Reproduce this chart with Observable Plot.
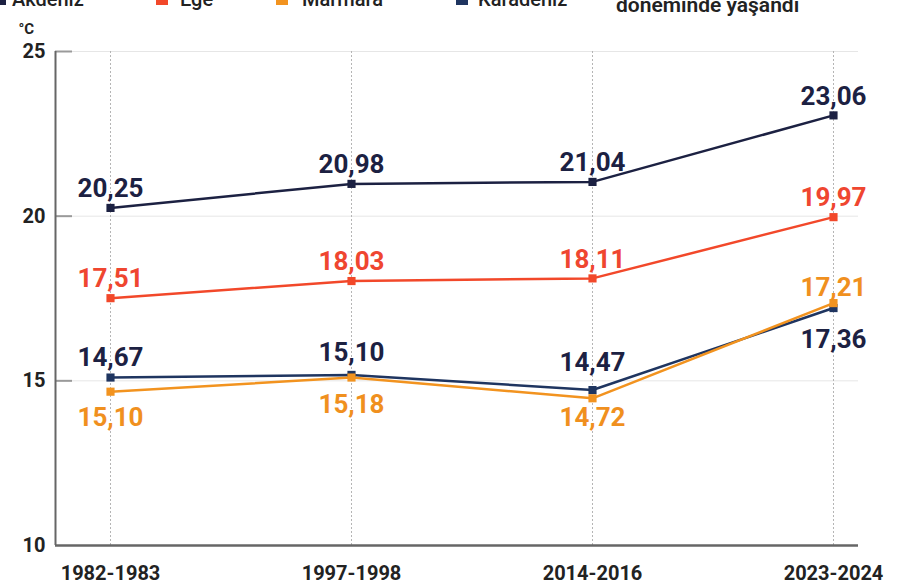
<!DOCTYPE html>
<html>
<head>
<meta charset="utf-8">
<script src="https://cdn.jsdelivr.net/npm/d3@7"></script>
<script src="https://cdn.jsdelivr.net/npm/@observablehq/plot@0.6"></script>
<style>
  html, body { margin: 0; padding: 0; background: #fff; }
  #wrap { position: relative; width: 919px; height: 587px; overflow: hidden; font-family: Roboto, "Noto Sans", sans-serif; }
  #chart { position: absolute; left: 0; top: 0; }
  .leg { position: absolute; top: -11px; font-size: 20px; font-weight: 500; color: #222; line-height: 20px; white-space: nowrap; }
  .sw { position: absolute; top: -7px; width: 12px; height: 12px; }
  .note { position: absolute; top: -5px; left: 616px; font-size: 21px; font-weight: 600; color: #222; line-height: 21px; white-space: nowrap; }
</style>
</head>
<body>
<div id="wrap">
  <div id="chart"></div>
</div>
<script>
const periods = ["1982-1983", "1997-1998", "2014-2016", "2023-2024"];
const seriesNames = ["Akdeniz", "Ege", "Marmara", "Karadeniz"];
const akdeniz = [20.25, 20.98, 21.04, 23.06];
const ege = [17.51, 18.03, 18.11, 19.97];
const marmara = [14.67, 15.10, 14.47, 17.36];
const karadeniz = [15.10, 15.18, 14.72, 17.21];
const akdenizLabels = ["20,25", "20,98", "21,04", "23,06"];
const egeLabels = ["17,51", "18,03", "18,11", "19,97"];
const marmaraLabels = ["15,10", "15,18", "14,72", "17,21"];
const karadenizLabels = ["14,67", "15,10", "14,47", "17,36"];
const yTicks = [10, 15, 20, 25];
const noteText = "döneminde yaşandı";

const colors = {Akdeniz: "#1c2142", Ege: "#f2482a", Marmara: "#f2931f", Karadeniz: "#1f3560"};
const labelColors = {Akdeniz: "#1c2142", Ege: "#ef4630", Marmara: "#f0901e", Karadeniz: "#1c2142"};
// label vertical offsets (style only)
const labelDy = {
  Akdeniz: [-19, -19, -19, -19],
  Ege: [-19, -19, -19, -19],
  Karadeniz: [-20, -22, -27, 32],
  Marmara: [26, 27, 19, -15]
};

const seriesValues = {Akdeniz: akdeniz, Ege: ege, Marmara: marmara, Karadeniz: karadeniz};
const seriesLabels = {Akdeniz: akdenizLabels, Ege: egeLabels, Marmara: marmaraLabels, Karadeniz: karadenizLabels};
const drawOrder = ["Akdeniz", "Ege", "Karadeniz", "Marmara"];

const rows = [];
for (const s of drawOrder) {
  periods.forEach((p, i) => rows.push({series: s, period: p, value: seriesValues[s][i], label: seriesLabels[s][i], i}));
}

const font = "Roboto, 'Noto Sans', sans-serif";

const marks = [
  Plot.ruleY(yTicks.filter(d => d > 10), {y: d => d, stroke: "#e6e6e6", strokeWidth: 1}),
  Plot.ruleX(periods, {x: d => d, y1: 10, y2: 25, stroke: "#b5b5b5", strokeWidth: 1, strokeDasharray: "2,2"}),
  Plot.tickY(yTicks.filter(d => d > 10), {y: d => d, stroke: "#9a9a9a", strokeWidth: 2, insetRight: 786}),
  Plot.ruleX([periods[0]], {x: d => d, dx: -55, y1: 10, y2: 25, stroke: "#666", strokeWidth: 2}),
  Plot.ruleY([10], {stroke: "#666", strokeWidth: 2.5}),
  Plot.axisY({ticks: yTicks, tickSize: 0, tickPadding: 10, tickFormat: d => d, fontSize: 20, fontWeight: 700, fill: "#222", label: null}),
  Plot.axisX({tickSize: 0, tickPadding: 20, fontSize: 20, fontWeight: 700, fill: "#222", label: null}),
  Plot.text(["°C"], {frameAnchor: "top-left", dx: -37, dy: -28, textAnchor: "start", fontSize: 15, fontWeight: 700, fill: "#222"})
];

for (const s of drawOrder) {
  const data = rows.filter(r => r.series === s);
  marks.push(Plot.line(data, {x: "period", y: "value", stroke: colors[s], strokeWidth: 2.5}));
  marks.push(Plot.dot(data, {x: "period", y: "value", symbol: "square", r: 4.6, fill: colors[s], stroke: "none"}));
}
for (const r of rows) {
  marks.push(Plot.text([r], {x: "period", y: "value", text: "label", dy: labelDy[r.series][r.i], fontSize: 26, fontWeight: 700, fill: labelColors[r.series]}));
}

const chart = Plot.plot({
  width: 919,
  height: 587,
  marginLeft: 55,
  marginRight: 61,
  marginTop: 51,
  marginBottom: 42,
  style: {fontFamily: font, background: "#fff", overflow: "visible"},
  x: {type: "point", domain: periods, range: [110, 833], padding: 0},
  y: {domain: [10, 25], range: [545, 51]},
  marks
});
document.getElementById("chart").appendChild(chart);

// legend (cut at top as in the original)
const wrap = document.getElementById("wrap");
const legPos = [{sw: -6, tx: 12}, {sw: 156, tx: 180}, {sw: 276, tx: 302}, {sw: 456, tx: 478}];
seriesNames.forEach((s, i) => {
  const sw = document.createElement("div");
  sw.className = "sw";
  sw.style.left = legPos[i].sw + "px";
  sw.style.background = colors[s];
  wrap.appendChild(sw);
  const t = document.createElement("div");
  t.className = "leg";
  t.style.left = legPos[i].tx + "px";
  t.textContent = s;
  wrap.appendChild(t);
});
const note = document.createElement("div");
note.className = "note";
note.textContent = noteText;
wrap.appendChild(note);
</script>
</body>
</html>
